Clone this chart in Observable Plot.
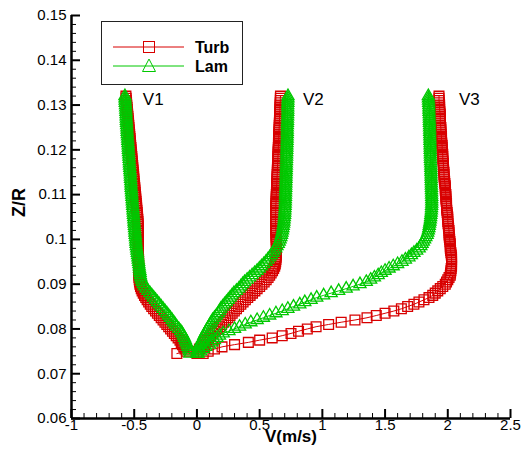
<!DOCTYPE html>
<html><head><meta charset="utf-8">
<script src="https://cdn.jsdelivr.net/npm/d3@7"></script>
<script src="https://cdn.jsdelivr.net/npm/@observablehq/plot@0.6"></script>
<style>
body{margin:0;background:#fff;}
#wrap{position:relative;width:528px;height:459px;font-family:"Liberation Sans",Arial,Helvetica,sans-serif;}
#legend{position:absolute;left:101px;top:21px;}
</style></head><body><div id="wrap"></div>
<script>
// shared Z/R sampling of the profiles
const Z = [0.0745,0.075,0.0755,0.076,0.0765,0.077,0.0775,0.078,0.0785,0.079,
0.0795,0.08,0.0805,0.081,0.0815,0.082,0.0825,0.083,0.0835,0.084,
0.0845,0.085,0.0855,0.086,0.0865,0.087,0.0875,0.088,0.0885,0.089,
0.0895,0.09,0.0905,0.091,0.0915,0.092,0.0925,0.093,0.0935,0.094,
0.0945,0.095,0.0955,0.096,0.0965,0.097,0.0975,0.098,0.0985,0.099,
0.0995,0.1,0.1005,0.101,0.1015,0.102,0.1025,0.103,0.1035,0.104,
0.1045,0.105,0.1055,0.106,0.1065,0.107,0.1075,0.108,0.1085,0.109,
0.1095,0.11,0.1105,0.111,0.1115,0.112,0.1125,0.113,0.1135,0.114,
0.1145,0.115,0.1155,0.116,0.1165,0.117,0.1175,0.118,0.1185,0.119,
0.1195,0.12,0.1205,0.121,0.1215,0.122,0.1225,0.123,0.1235,0.124,
0.1245,0.125,0.1255,0.126,0.1265,0.127,0.1275,0.128,0.1285,0.129,
0.1295,0.13,0.1305,0.131,0.1315,0.132];

const turbV1 = [-0.16,-0.085,-0.095,-0.105,-0.115,-0.125,-0.135,-0.15,-0.165,-0.18,
-0.195,-0.21,-0.225,-0.24,-0.255,-0.27,-0.285,-0.3,-0.315,-0.33,
-0.345,-0.36,-0.372,-0.385,-0.397,-0.408,-0.418,-0.428,-0.437,-0.444,
-0.45,-0.455,-0.458,-0.46,-0.462,-0.463,-0.463,-0.464,-0.464,-0.465,
-0.465,-0.465,-0.465,-0.466,-0.466,-0.466,-0.466,-0.467,-0.467,-0.467,
-0.467,-0.468,-0.468,-0.468,-0.468,-0.469,-0.469,-0.469,-0.469,-0.47,
-0.471,-0.473,-0.474,-0.476,-0.478,-0.48,-0.481,-0.483,-0.485,-0.487,
-0.488,-0.49,-0.492,-0.494,-0.495,-0.497,-0.499,-0.501,-0.502,-0.504,
-0.505,-0.507,-0.509,-0.511,-0.512,-0.514,-0.516,-0.518,-0.519,-0.521,
-0.523,-0.525,-0.526,-0.528,-0.53,-0.532,-0.533,-0.535,-0.536,-0.538,
-0.54,-0.542,-0.543,-0.545,-0.547,-0.549,-0.55,-0.552,-0.554,-0.556,
-0.557,-0.559,-0.561,-0.563,-0.564,-0.566];

const lamV1 = [-0.055,-0.06,-0.065,-0.072,-0.078,-0.085,-0.092,-0.1,-0.108,-0.118,
-0.13,-0.145,-0.16,-0.172,-0.185,-0.198,-0.212,-0.226,-0.24,-0.255,
-0.27,-0.285,-0.3,-0.315,-0.33,-0.345,-0.36,-0.375,-0.39,-0.405,
-0.418,-0.428,-0.436,-0.442,-0.447,-0.451,-0.453,-0.455,-0.458,-0.46,
-0.463,-0.465,-0.468,-0.47,-0.473,-0.475,-0.478,-0.48,-0.483,-0.485,
-0.487,-0.488,-0.49,-0.492,-0.494,-0.495,-0.497,-0.498,-0.5,-0.501,
-0.503,-0.504,-0.506,-0.507,-0.509,-0.51,-0.512,-0.513,-0.515,-0.516,
-0.518,-0.519,-0.521,-0.522,-0.524,-0.525,-0.526,-0.527,-0.529,-0.53,
-0.531,-0.532,-0.534,-0.535,-0.537,-0.538,-0.539,-0.54,-0.542,-0.543,
-0.545,-0.546,-0.547,-0.548,-0.55,-0.551,-0.552,-0.553,-0.555,-0.556,
-0.557,-0.558,-0.56,-0.561,-0.562,-0.563,-0.564,-0.565,-0.566,-0.567,
-0.568,-0.569,-0.571,-0.572,-0.573,-0.574];

const turbV2 = [0.0,0.01,0.02,0.035,0.05,0.065,0.08,0.095,0.11,0.128,
0.145,0.163,0.18,0.197,0.213,0.23,0.247,0.264,0.281,0.298,
0.315,0.332,0.35,0.368,0.386,0.405,0.424,0.443,0.462,0.48,
0.5,0.518,0.536,0.552,0.567,0.58,0.592,0.603,0.612,0.62,
0.625,0.628,0.63,0.632,0.633,0.634,0.634,0.634,0.634,0.633,
0.633,0.632,0.631,0.63,0.63,0.629,0.629,0.628,0.628,0.627,
0.627,0.627,0.627,0.628,0.628,0.629,0.629,0.63,0.631,0.632,
0.632,0.633,0.634,0.635,0.635,0.636,0.637,0.638,0.638,0.639,
0.64,0.641,0.641,0.642,0.643,0.644,0.644,0.645,0.646,0.647,
0.647,0.648,0.649,0.65,0.65,0.651,0.652,0.653,0.653,0.654,
0.655,0.656,0.656,0.657,0.658,0.659,0.659,0.66,0.661,0.662,
0.662,0.663,0.664,0.665,0.665,0.666];

const lamV2 = [0.0,0.005,0.01,0.015,0.02,0.03,0.04,0.05,0.055,0.065,
0.075,0.085,0.095,0.105,0.115,0.125,0.14,0.155,0.17,0.18,
0.19,0.205,0.22,0.235,0.25,0.265,0.28,0.295,0.315,0.335,
0.35,0.365,0.38,0.4,0.42,0.44,0.46,0.48,0.498,0.515,
0.533,0.55,0.565,0.58,0.593,0.605,0.617,0.628,0.638,0.648,
0.656,0.663,0.669,0.674,0.678,0.682,0.685,0.688,0.691,0.693,
0.695,0.697,0.699,0.7,0.701,0.702,0.703,0.704,0.705,0.705,
0.706,0.706,0.707,0.707,0.708,0.708,0.709,0.709,0.71,0.71,
0.711,0.711,0.712,0.712,0.713,0.713,0.714,0.714,0.715,0.715,
0.716,0.716,0.717,0.717,0.718,0.718,0.719,0.719,0.72,0.72,
0.72,0.72,0.721,0.721,0.722,0.722,0.723,0.723,0.724,0.724,
0.724,0.724,0.725,0.725,0.726,0.726];

const turbV3 = [0.05,0.09,0.14,0.2,0.3,0.41,0.5,0.6,0.68,0.75,
0.81,0.88,0.95,1.05,1.15,1.26,1.356,1.43,1.5,1.57,
1.63,1.68,1.73,1.77,1.81,1.85,1.88,1.9,1.92,1.94,
1.96,1.98,1.99,2.0,2.01,2.02,2.022,2.025,2.027,2.03,
2.03,2.03,2.03,2.03,2.028,2.025,2.022,2.02,2.02,2.02,
2.017,2.015,2.012,2.01,2.01,2.01,2.007,2.005,2.002,2.0,
2.0,2.0,1.997,1.995,1.992,1.99,1.99,1.99,1.987,1.985,
1.985,1.985,1.982,1.98,1.98,1.98,1.977,1.975,1.972,1.97,
1.97,1.97,1.967,1.965,1.965,1.965,1.962,1.96,1.96,1.96,
1.957,1.955,1.955,1.955,1.952,1.95,1.95,1.95,1.947,1.945,
1.945,1.945,1.942,1.94,1.94,1.94,1.94,1.94,1.937,1.935,
1.935,1.935,1.932,1.93,1.93,1.93];

const lamV3 = [0.01,0.03,0.05,0.07,0.1,0.12,0.14,0.16,0.18,0.21,
0.255,0.3,0.34,0.385,0.43,0.48,0.53,0.58,0.63,0.68,
0.725,0.77,0.82,0.86,0.91,0.955,1.01,1.07,1.13,1.19,
1.245,1.3,1.35,1.385,1.415,1.445,1.47,1.5,1.532,1.565,
1.6,1.635,1.662,1.69,1.71,1.73,1.752,1.772,1.785,1.795,
1.805,1.815,1.825,1.835,1.84,1.845,1.849,1.852,1.855,1.858,
1.861,1.863,1.865,1.867,1.869,1.87,1.871,1.872,1.872,1.872,
1.872,1.871,1.871,1.87,1.87,1.869,1.869,1.868,1.868,1.867,
1.867,1.866,1.866,1.865,1.865,1.864,1.863,1.862,1.862,1.861,
1.861,1.86,1.86,1.859,1.859,1.858,1.858,1.857,1.857,1.856,
1.856,1.855,1.855,1.854,1.854,1.853,1.853,1.852,1.851,1.85,
1.85,1.849,1.848,1.847,1.846,1.845];

const xTicks = [-1,-0.5,0,0.5,1,1.5,2,2.5];
const yTicks = [0.06,0.07,0.08,0.09,0.1,0.11,0.12,0.13,0.14,0.15];
const profileNames = ["V1","V2","V3"];
const profileLabelV = [-0.431,0.845,2.089];
const profileLabelZ = [0.1312,0.1312,0.1312];
const seriesNames = ["Turb","Lam"];

const RED = "#d80000", GREEN = "#00c800";

function rows(model, name, vals){ return vals.map((v,i)=>({model, profile:name, v, z:Z[i]})); }
const turb = [...rows("Turb","V1",turbV1), ...rows("Turb","V2",turbV2), ...rows("Turb","V3",turbV3)];
const lam = [...rows("Lam","V1",lamV1), ...rows("Lam","V2",lamV2), ...rows("Lam","V3",lamV3)];

const W=528,H=459,mL=71,mR=18,mT=15,mB=41;
const pw=W-mL-mR, ph=H-mT-mB;
const xMinor = d3.range(-10,26).map(d=>d/10).filter(d=>!xTicks.includes(d) && d>-1 && d<2.5);
const yMinor = d3.range(30,76).map(d=>+(d*0.002).toFixed(3)).filter(d=>d>0.06 && d<0.15 && Math.abs(d*100-Math.round(d*100))>1e-6);
const fmt = d => String(+d.toFixed(3));
const FONT = '"Liberation Sans",Arial,Helvetica,sans-serif';

const chart = Plot.plot({
  width:W,height:H,marginLeft:mL,marginRight:mR,marginTop:mT,marginBottom:mB,
  style:{fontFamily:FONT, background:"white", overflow:"visible", color:"black"},
  x:{domain:[-1,2.5]}, y:{domain:[0.06,0.15]},
  marks:[
    Plot.line(turb,{x:"v",y:"z",z:"profile",stroke:RED,strokeWidth:1}),
    Plot.dot(turb,{x:"v",y:"z",symbol:"square",r:5.5,stroke:RED,strokeWidth:1.3,fill:"none"}),
    Plot.line(lam,{x:"v",y:"z",z:"profile",stroke:GREEN,strokeWidth:1}),
    Plot.dot(lam,{x:"v",y:"z",symbol:"triangle",r:4.5,stroke:GREEN,strokeWidth:1.3,fill:"none"}),
    Plot.ruleX(xTicks,{insetTop:ph-9,strokeWidth:2,stroke:"black"}),
    Plot.ruleX(xMinor,{insetTop:ph-5,strokeWidth:1,stroke:"black"}),
    Plot.ruleY(yTicks,{insetRight:pw-9,strokeWidth:2,stroke:"black"}),
    Plot.ruleY(yMinor,{insetRight:pw-5,strokeWidth:1,stroke:"black"}),
    Plot.ruleX([-1],{strokeWidth:2.5,stroke:"black"}),
    Plot.ruleY([0.06],{strokeWidth:2.5,stroke:"black"}),
    Plot.axisX(xTicks,{tickSize:0,tickPadding:1,fontSize:15,tickFormat:fmt,label:null}),
    Plot.axisY(yTicks,{tickSize:0,tickPadding:5,fontSize:15,tickFormat:fmt,label:null}),
    Plot.text(["V(m/s)"],{frameAnchor:"bottom",dy:23,fontWeight:"bold",fontSize:17}),
    Plot.text(["Z/R"],{frameAnchor:"left",dx:-52,rotate:-90,fontWeight:"bold",fontSize:18}),
    Plot.text(profileNames,{x:profileLabelV,y:profileLabelZ,text:d=>d,textAnchor:"start",fontSize:17})
  ]
});
const wrap = document.getElementById("wrap");
wrap.appendChild(chart);

// legend overlay
const lg = d3.select(wrap).append("svg").attr("id","legend").attr("width",142).attr("height",64)
  .style("font-family",FONT);
lg.append("rect").attr("x",0.5).attr("y",0.5).attr("width",141).attr("height",63).attr("fill","white").attr("stroke","#222").attr("stroke-width",1);
const rowsY=[26,45], cols=[RED,GREEN];
seriesNames.forEach((name,i)=>{
  const y=rowsY[i];
  lg.append("line").attr("x1",12).attr("x2",83).attr("y1",y).attr("y2",y).attr("stroke",cols[i]).attr("stroke-width",1);
  if(i===0) lg.append("rect").attr("x",42.5).attr("y",y-5.5).attr("width",11).attr("height",11).attr("fill","none").attr("stroke",RED);
  else lg.append("path").attr("d",`M48,${y-7}L54.5,${y+5.5}L41.5,${y+5.5}Z`).attr("fill","none").attr("stroke",GREEN);
  lg.append("text").attr("x",94).attr("y",y).attr("dy","0.35em").attr("font-size",16).attr("font-weight","bold").text(name);
});
</script></body></html>
